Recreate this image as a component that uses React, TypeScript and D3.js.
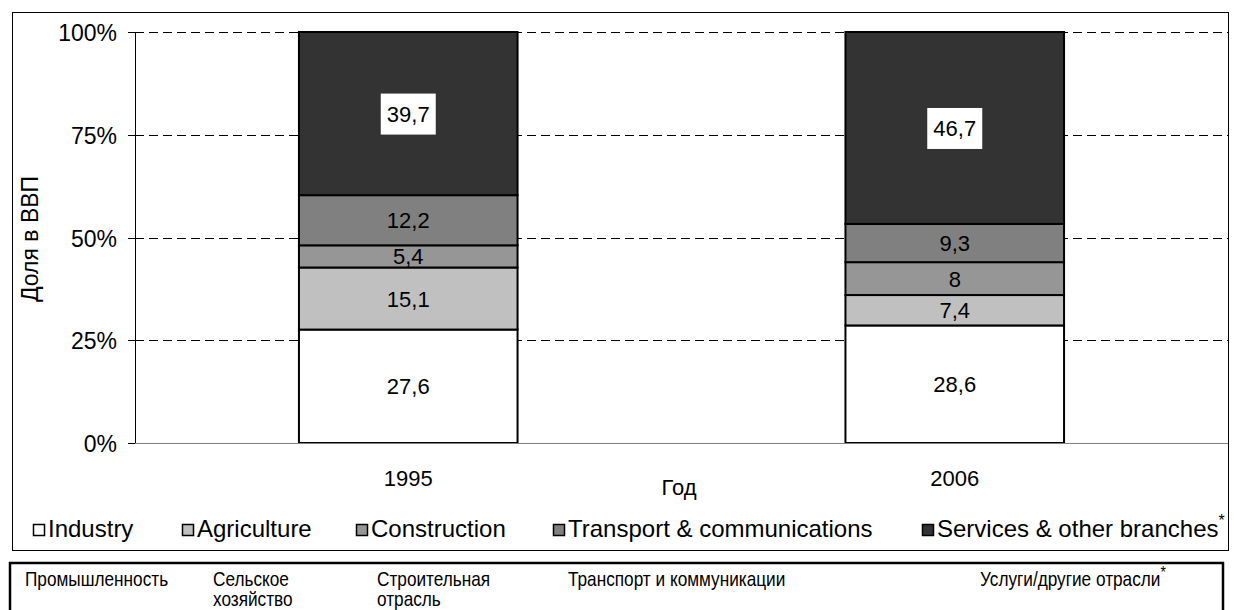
import { useRef, useEffect } from "react";
import * as d3 from "d3";

const years = ["1995", "2006"];
const sectors = ["Industry", "Agriculture", "Construction", "Transport & communications", "Services & other branches"];
const industry = [27.6, 28.6];
const agriculture = [15.1, 7.4];
const construction = [5.4, 8];
const transport = [12.2, 9.3];
const services = [39.7, 46.7];
const colors = ["#ffffff", "#c0c0c0", "#969696", "#808080", "#333333"];
const yTicks = [0, 0.25, 0.5, 0.75, 1];
const ruLabels = [
    { lines: ["Промышленность"], x: 25 },
    { lines: ["Сельское", "хозяйство"], x: 213 },
    { lines: ["Строительная", "отрасль"], x: 377 },
    { lines: ["Транспорт и коммуникации"], x: 568 },
    { lines: ["Услуги/другие отрасли"], x: 980, star: true },
];

export default function App() {
    const svgRef = useRef(null);

    useEffect(() => {
        const svg = d3.select(svgRef.current).html(null);
        const font = "Liberation Sans, Arial, sans-serif";

        const left = 135, right = 1228, top = 32, bottom = 443;

        // outer chart frame
        svg.append("rect").attr("x", 12.5).attr("y", 12.5).attr("width", 1216).attr("height", 538)
            .attr("fill", "white").attr("stroke", "#000").attr("stroke-width", 1);

        const x = d3.scaleBand().domain(years).range([left, right]).paddingInner(0.6).paddingOuter(0.3);
        const y = d3.scaleLinear().domain([0, 1]).range([bottom, top]);

        // grid lines
        svg.append("g").selectAll("line").data(yTicks.filter(t => t > 0)).join("line")
            .attr("x1", left).attr("x2", right)
            .attr("y1", d => Math.round(y(d)) + 0.5).attr("y2", d => Math.round(y(d)) + 0.5)
            .attr("stroke", "#000").attr("stroke-dasharray", "9,5").attr("stroke-width", 1);

        const rows = years.map((yr, i) => ({
            year: yr, Industry: industry[i], Agriculture: agriculture[i], Construction: construction[i],
            "Transport & communications": transport[i], "Services & other branches": services[i],
        }));
        const stacked = d3.stack().keys(sectors)(rows as any);

        stacked.forEach((layer, li) => {
            svg.append("g").selectAll("rect").data(layer).join("rect")
                .attr("x", d => x((d.data as any).year))
                .attr("width", x.bandwidth())
                .attr("y", d => y(d[1] / 100))
                .attr("height", d => y(d[0] / 100) - y(d[1] / 100))
                .attr("fill", colors[li]).attr("stroke", "#000").attr("stroke-width", 2);
        });

        // value labels
        stacked.forEach((layer, li) => {
            layer.forEach(d => {
                const cx = x((d.data as any).year) + x.bandwidth() / 2;
                const cy = y((d[0] + d[1]) / 200);
                const label = String(+(d[1] - d[0]).toFixed(1)).replace(".", ",");
                if (li === 4) {
                    svg.append("rect").attr("x", cx - 27.5).attr("y", cy - 20).attr("width", 55).attr("height", 41).attr("fill", "white");
                }
                svg.append("text").attr("x", cx).attr("y", cy + 8).attr("text-anchor", "middle")
                    .attr("font-family", font).attr("font-size", 22).attr("fill", "#000").text(label);
            });
        });

        // axes
        svg.append("line").attr("x1", left + 0.5).attr("x2", left + 0.5).attr("y1", top).attr("y2", bottom)
            .attr("stroke", "#000");
        svg.append("line").attr("x1", left).attr("x2", right).attr("y1", bottom + 0.5).attr("y2", bottom + 0.5)
            .attr("stroke", "#808080");
        const yt = svg.append("g");
        yTicks.forEach(t => {
            const ty = Math.round(y(t)) + 0.5;
            yt.append("line").attr("x1", left - 7).attr("x2", left).attr("y1", ty).attr("y2", ty).attr("stroke", "#000");
            yt.append("text").attr("x", 117).attr("y", ty + 8).attr("text-anchor", "end")
                .attr("font-family", font).attr("font-size", 23).text(d3.format(".0%")(t));
        });
        years.forEach(yr => {
            svg.append("text").attr("x", x(yr) + x.bandwidth() / 2).attr("y", 486).attr("text-anchor", "middle")
                .attr("font-family", font).attr("font-size", 22).text(yr);
        });
        svg.append("text").attr("x", 679).attr("y", 495).attr("text-anchor", "middle")
            .attr("font-family", font).attr("font-size", 22).text("Год");
        svg.append("text").attr("transform", "translate(38,239) rotate(-90)").attr("text-anchor", "middle")
            .attr("font-family", font).attr("font-size", 23).text("Доля в ВВП");

        // legend
        const legX = [33, 182, 356, 553, 922];
        sectors.forEach((s, i) => {
            svg.append("rect").attr("x", legX[i] + 0.5).attr("y", 524.5).attr("width", 11).attr("height", 11)
                .attr("fill", colors[i]).attr("stroke", "#000").attr("stroke-width", 1.5);
            const t = svg.append("text").attr("x", legX[i] + 15).attr("y", 537)
                .attr("font-family", font).attr("font-size", 24).text(s);
            if (i === 4) t.append("tspan").attr("font-size", 16).attr("dy", -11).text("*");
        });

        // russian labels box (narrow face imitated with a horizontal squeeze)
        svg.append("rect").attr("x", 10).attr("y", 563).attr("width", 1213).attr("height", 60)
            .attr("fill", "white").attr("stroke", "#000").attr("stroke-width", 2.5);
        ruLabels.forEach(l => {
            l.lines.forEach((ln, k) => {
                const t = svg.append("text")
                    .attr("transform", `translate(${l.x},${586 + k * 20}) scale(0.82,1)`)
                    .attr("font-family", font).attr("font-size", 21).text(ln);
                if (l.star) t.append("tspan").attr("font-size", 17).attr("dy", -8).text("*");
            });
        });
    }, []);

    return <svg ref={svgRef} width={1234} height={610} style={{ position: "absolute", left: 0, top: 0, background: "white" }}></svg>;
}
